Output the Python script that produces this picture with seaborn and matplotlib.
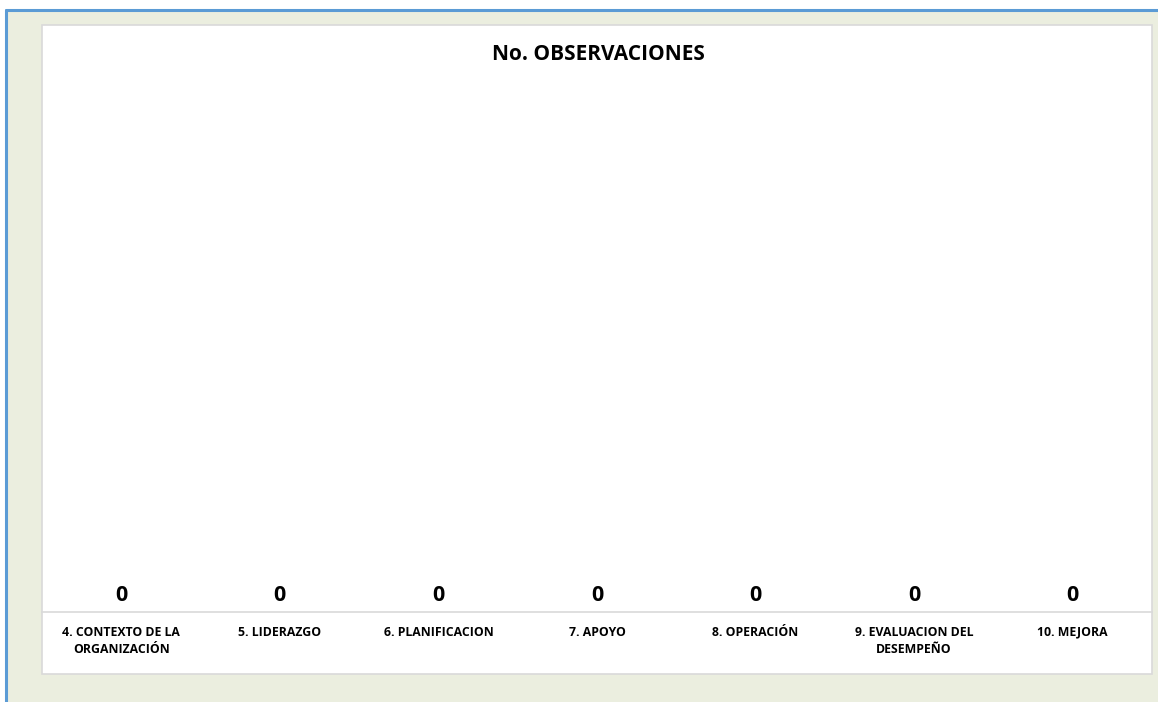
import matplotlib
matplotlib.use("Agg")
import matplotlib.pyplot as plt
import seaborn as sns
import pandas as pd
from matplotlib.patches import Rectangle
from matplotlib.lines import Line2D

# Data
categorias = ["4. CONTEXTO DE LA\nORGANIZACIÓN", "5. LIDERAZGO", "6. PLANIFICACION",
              "7. APOYO", "8. OPERACIÓN", "9. EVALUACION DEL\nDESEMPEÑO", "10. MEJORA"]
observaciones = [0, 0, 0, 0, 0, 0, 0]

df = pd.DataFrame({"categoria": categorias, "observaciones": observaciones})

sns.set_style("white")
plt.rcParams["font.family"] = ["Open Sans", "DejaVu Sans"]

W, H = 1158, 702
fig = plt.figure(figsize=(W / 100, H / 100), dpi=100)
fig.patch.set_facecolor("white")

# beige background with blue border on top and left
fig.patches.append(Rectangle((6 / W, 0), 1 - 6 / W, 1 - 10 / H, transform=fig.transFigure,
                             facecolor="#EBEEDF", edgecolor="none", zorder=-3))
fig.lines.append(Line2D([6 / W, 6 / W], [0, 1 - 10 / H], transform=fig.transFigure,
                        color="#5B9BD5", lw=2.2, zorder=-2))
fig.lines.append(Line2D([6 / W, 1], [1 - 10 / H, 1 - 10 / H], transform=fig.transFigure,
                        color="#5B9BD5", lw=2.2, zorder=-2))
# white chart area
fig.patches.append(Rectangle((42 / W, 1 - 674 / H), (1152 - 42) / W, (674 - 25) / H,
                             transform=fig.transFigure, facecolor="white",
                             edgecolor="#D9D9D9", lw=1.2, zorder=-1))

ax = fig.add_axes([42 / W, 1 - 612 / H, (1152 - 42) / W, (612 - 80) / H])
ax.set_zorder(2)
ax.set_facecolor("none")
sns.barplot(data=df, x="categoria", y="observaciones", color="#4F81BD", ax=ax)
ax.set_ylim(0, 1)
ax.set_xlim(-0.5, len(categorias) - 0.5)

for c in ax.containers:
    ax.bar_label(c, labels=[str(v) for v in observaciones], padding=4,
                 fontsize=15.5, fontweight="bold", color="black")

ax.set_xlabel("")
ax.set_ylabel("")
ax.set_yticks([])
ax.tick_params(axis="x", length=0, pad=10, labelcolor="black")
for lab in ax.get_xticklabels():
    lab.set_fontsize(8.8)
    lab.set_fontweight("bold")
    lab.set_linespacing(1.45)
    lab.set_verticalalignment("top")
for s in ["top", "left", "right"]:
    ax.spines[s].set_visible(False)
ax.spines["bottom"].set_color("#D9D9D9")
ax.spines["bottom"].set_linewidth(1.2)

fig.text(598 / W, 1 - 55 / H, "No. OBSERVACIONES", ha="center", va="center",
         fontsize=15, fontweight="bold", color="black")

fig.savefig("out.png", dpi=100)
